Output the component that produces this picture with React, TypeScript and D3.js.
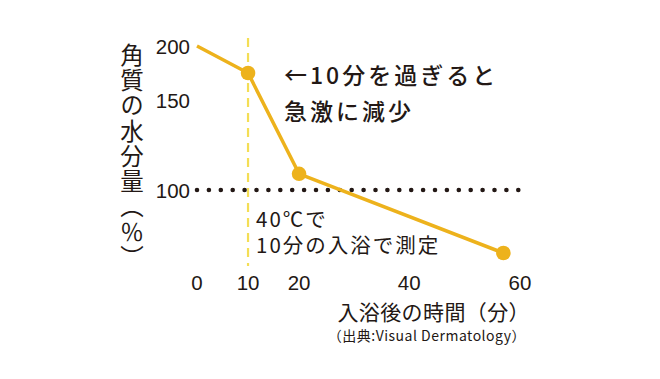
import React from "react";
import * as d3 from "d3";

const minutes = [0, 10, 20, 57];
const moisture = [200, 175, 109, 65];
const dotted = [false, true, true, true];
const xTicks = [0, 10, 20, 40, 60];
const yTicks = [200, 150, 100];
const yTitle = "角質の水分量（％）";
const note1 = ["←10分を過ぎると", "急激に減少"];
const note2 = ["40℃で", "10分の入浴で測定"];
const xTitle = "入浴後の時間（分）";
const source = "（出典:Visual Dermatology）";

const W = 660;
const H = 379;
const FONT = "'Noto Sans CJK JP', 'Noto Sans', sans-serif";
const NUMFONT = "'Liberation Sans', Arial, sans-serif";
const INK = "#231815";
const LINE = "#EDB21C";
const DASH = "#F4DE55";

export default function App() {
  const left = 197;
  const right = 520;
  const top = 46;
  const ref = 190;
  const pw = right - left;
  // piecewise (illustrative) axes as in the original figure
  const x = d3
    .scaleLinear()
    .domain(xTicks)
    .range([0, 0.158, 0.316, 0.657, 1].map((f) => left + f * pw));
  const y = d3
    .scaleLinear()
    .domain([100, 150, 200])
    .range([ref, ref - (ref - top) * 0.625, top]);

  const pts = minutes.map((m, i) => [x(m), y(moisture[i])] as [number, number]);
  const line = d3.line()(pts) || "";

  return (
    <svg
      width={W}
      height={H}
      style={{ position: "absolute", left: 0, top: 0, background: "#fff" }}
      fontFamily={FONT}
    >
      {/* dashed vertical at 10 min */}
      <line
        x1={x(10)}
        x2={x(10)}
        y1={38}
        y2={266}
        stroke={DASH}
        strokeWidth={2.2}
        strokeDasharray="9 6"
      />
      {/* dotted reference at 100% */}
      <line
        x1={x(0)}
        x2={x(60) + 9}
        y1={y(100)}
        y2={y(100)}
        stroke={INK}
        strokeWidth={4.6}
        strokeLinecap="round"
        strokeDasharray="0 11.9"
      />
      <path d={line} fill="none" stroke={LINE} strokeWidth={3.5} strokeLinejoin="round" />
      {pts.map((p, i) =>
        dotted[i] ? <circle key={i} cx={p[0]} cy={p[1]} r={7.3} fill={LINE} /> : null
      )}

      {yTicks.map((t) => (
        <text key={t} x={190} y={y(t) + 8} textAnchor="end" fontSize={20.5} fill={INK} fontFamily={NUMFONT}>
          {t}
        </text>
      ))}
      {xTicks.map((t) => (
        <text key={t} x={x(t)} y={290} textAnchor="middle" fontSize={20.5} fill={INK} fontFamily={NUMFONT}>
          {t}
        </text>
      ))}

      <text
        x={132}
        y={43}
        fontSize={23.5}
        fill={INK}
        letterSpacing={1.8}
        style={{ writingMode: "vertical-rl", textOrientation: "mixed" } as any}
      >
        {yTitle}
      </text>

      <text fontSize={23} fill={INK} fontWeight={500} letterSpacing={3}>
        {note1.map((s, i) => (
          <tspan key={s} x={284} y={84 + i * 36}>
            {s}
          </tspan>
        ))}
      </text>
      <text fontSize={20.5} fill={INK} letterSpacing={2}>
        {note2.map((s, i) => (
          <tspan key={s} x={256} y={227 + i * 26}>
            {s}
          </tspan>
        ))}
      </text>

      <text x={530} y={320} textAnchor="end" fontSize={21} fill={INK} letterSpacing={0.4}>
        {xTitle}
      </text>
      <text x={526} y={341} textAnchor="end" fontSize={14} fill={INK} letterSpacing={0.5}>
        {source}
      </text>
    </svg>
  );
}
